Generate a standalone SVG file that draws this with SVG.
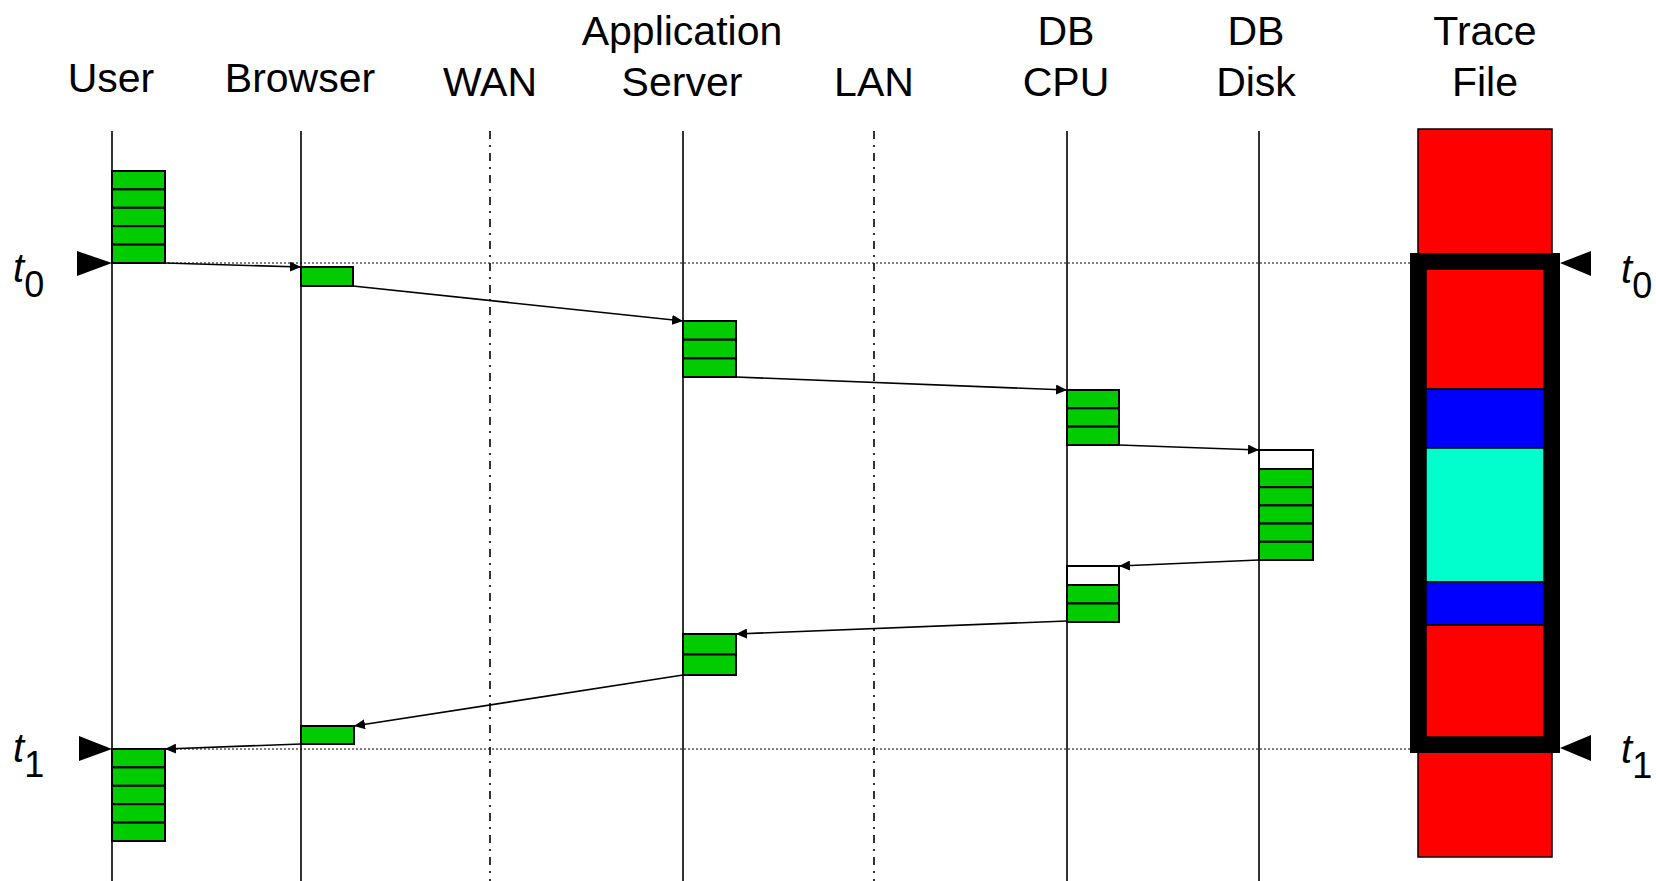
<svg xmlns="http://www.w3.org/2000/svg" width="1656" height="881" viewBox="0 0 1656 881">
<style>
.lbl{font-family:"Liberation Sans",Arial,sans-serif;font-size:41px;fill:#000;text-anchor:middle}
.tl{font-family:"Liberation Sans",Arial,sans-serif;font-size:40px;font-style:italic;fill:#000}
.sub{font-style:normal;font-size:36px}
.life{stroke:#000;stroke-width:1.6;fill:none}
.net{stroke:#000;stroke-width:1.6;fill:none;stroke-dasharray:8 6 2 6}
.dot{stroke:#000;stroke-width:1;fill:none;stroke-dasharray:2 2}
.g{fill:#00CC00;stroke:#000;stroke-width:2}
.w{fill:#FFFFFF;stroke:#000;stroke-width:2}
.msg{stroke:#000;stroke-width:1.6;fill:none;marker-end:url(#ah)}
.tri{fill:#000}
.tf{stroke:#000;stroke-width:1.5}
</style>
<defs>
<marker id="ah" markerUnits="userSpaceOnUse" markerWidth="12" markerHeight="10" refX="11" refY="5" orient="auto">
<path d="M0,0 L11,5 L0,10 Z" fill="#000"/>
</marker>
</defs>
<rect width="1656" height="881" fill="#fff"/>

<g id="headers">
<text class="lbl" x="111" y="92">User</text>
<text class="lbl" x="300" y="92">Browser</text>
<text class="lbl" x="490" y="96">WAN</text>
<text class="lbl" x="682" y="45">Application</text>
<text class="lbl" x="682" y="96">Server</text>
<text class="lbl" x="874" y="96">LAN</text>
<text class="lbl" x="1066" y="45">DB</text>
<text class="lbl" x="1066" y="96">CPU</text>
<text class="lbl" x="1256" y="45">DB</text>
<text class="lbl" x="1256" y="96">Disk</text>
<text class="lbl" x="1485" y="45">Trace</text>
<text class="lbl" x="1485" y="96">File</text>
</g>

<g id="lifelines">
<line class="life" x1="112" y1="131" x2="112" y2="881"/>
<line class="life" x1="301" y1="131" x2="301" y2="881"/>
<line class="net" x1="490" y1="131" x2="490" y2="881"/>
<line class="life" x1="683" y1="131" x2="683" y2="881"/>
<line class="net" x1="874" y1="131" x2="874" y2="881"/>
<line class="life" x1="1067" y1="131" x2="1067" y2="881"/>
<line class="life" x1="1259" y1="131" x2="1259" y2="881"/>
</g>

<g id="timelines">
<line class="dot" x1="112" y1="263" x2="1410" y2="263"/>
<line class="dot" x1="112" y1="749" x2="1410" y2="749"/>
</g>

<g id="trace-file">
<rect x="1418" y="129" width="134" height="140" fill="#FF0000" class="tf"/>
<rect x="1418" y="737" width="134" height="120" fill="#FF0000" class="tf"/>
<rect x="1426" y="269" width="118" height="120" fill="#FF0000" class="tf"/>
<rect x="1426" y="389" width="118" height="59" fill="#0000FF" class="tf"/>
<rect x="1426" y="448" width="118" height="134" fill="#00FFCC" class="tf"/>
<rect x="1426" y="582" width="118" height="43" fill="#0000FF" class="tf"/>
<rect x="1426" y="625" width="118" height="112" fill="#FF0000" class="tf"/>
<rect x="1418" y="261" width="134" height="484" fill="none" stroke="#000" stroke-width="16"/>
</g>

<g id="user-block-1">
<rect class="g" x="112" y="171" width="53" height="18.4"/>
<rect class="g" x="112" y="189.4" width="53" height="18.4"/>
<rect class="g" x="112" y="207.8" width="53" height="18.4"/>
<rect class="g" x="112" y="226.2" width="53" height="18.4"/>
<rect class="g" x="112" y="244.6" width="53" height="18.4"/>
</g>
<g id="user-block-2">
<rect class="g" x="112" y="749" width="53" height="18.4"/>
<rect class="g" x="112" y="767.4" width="53" height="18.4"/>
<rect class="g" x="112" y="785.8" width="53" height="18.4"/>
<rect class="g" x="112" y="804.2" width="53" height="18.4"/>
<rect class="g" x="112" y="822.6" width="53" height="18.4"/>
</g>
<g id="browser-block-1">
<rect class="g" x="301" y="267" width="52" height="19"/>
</g>
<g id="browser-block-2">
<rect class="g" x="301" y="726" width="53" height="18"/>
</g>
<g id="app-block-1">
<rect class="g" x="683" y="321" width="53" height="18.7"/>
<rect class="g" x="683" y="339.7" width="53" height="18.7"/>
<rect class="g" x="683" y="358.4" width="53" height="18.6"/>
</g>
<g id="app-block-2">
<rect class="g" x="683" y="634" width="53" height="20.5"/>
<rect class="g" x="683" y="654.5" width="53" height="20.5"/>
</g>
<g id="cpu-block-1">
<rect class="g" x="1067" y="390" width="52" height="18.3"/>
<rect class="g" x="1067" y="408.3" width="52" height="18.3"/>
<rect class="g" x="1067" y="426.6" width="52" height="18.4"/>
</g>
<g id="cpu-block-2">
<rect class="w" x="1067" y="566" width="52" height="19"/>
<rect class="g" x="1067" y="585" width="52" height="18.5"/>
<rect class="g" x="1067" y="603.5" width="52" height="18.5"/>
</g>
<g id="disk-block">
<rect class="w" x="1259" y="450" width="54" height="19"/>
<rect class="g" x="1259" y="469" width="54" height="18.2"/>
<rect class="g" x="1259" y="487.2" width="54" height="18.2"/>
<rect class="g" x="1259" y="505.4" width="54" height="18.2"/>
<rect class="g" x="1259" y="523.6" width="54" height="18.2"/>
<rect class="g" x="1259" y="541.8" width="54" height="18.2"/>
</g>

<g id="connectors">
<line class="msg" x1="165" y1="263" x2="301" y2="267"/>
<line class="msg" x1="353" y1="286" x2="683" y2="321"/>
<line class="msg" x1="736" y1="377" x2="1067" y2="390"/>
<line class="msg" x1="1119" y1="445" x2="1259" y2="450"/>
<line class="msg" x1="1259" y1="560" x2="1119" y2="566"/>
<line class="msg" x1="1067" y1="621" x2="736" y2="634"/>
<line class="msg" x1="683" y1="675" x2="354" y2="726"/>
<line class="msg" x1="301" y1="744" x2="165" y2="749"/>
</g>

<g id="time-markers">
<path class="tri" d="M77,251 L112,263 L77,276 Z"/>
<path class="tri" d="M79,736 L112,749 L79,761 Z"/>
<path class="tri" d="M1591,251 L1560,263 L1591,276 Z"/>
<path class="tri" d="M1591,735 L1560,748 L1591,761 Z"/>
<text class="tl" x="13" y="282">t<tspan class="sub" dy="15">0</tspan></text>
<text class="tl" x="13" y="762">t<tspan class="sub" dy="15">1</tspan></text>
<text class="tl" x="1621" y="283">t<tspan class="sub" dy="15">0</tspan></text>
<text class="tl" x="1621" y="763">t<tspan class="sub" dy="15">1</tspan></text>
</g>
</svg>
